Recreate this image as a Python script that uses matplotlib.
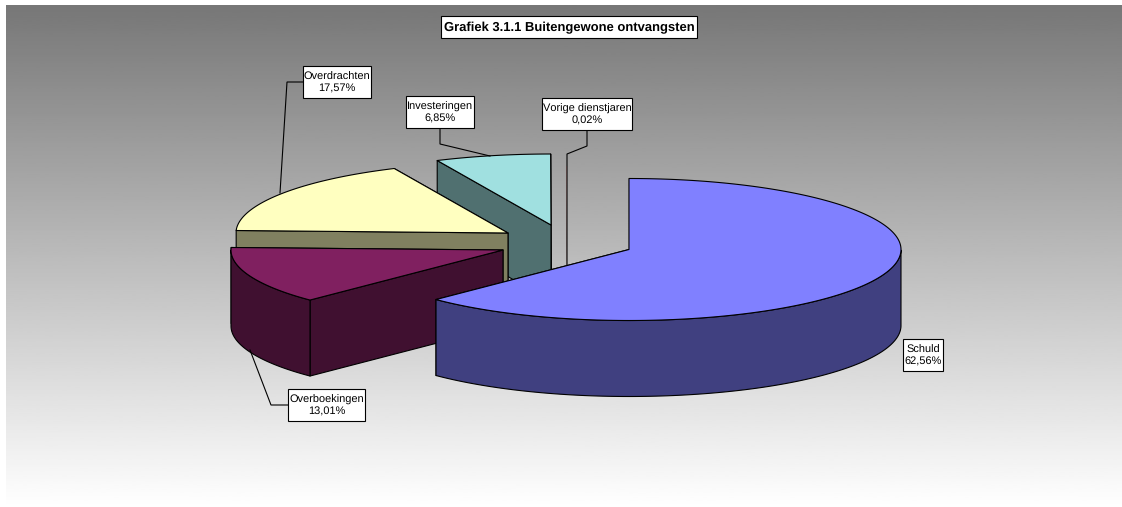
import matplotlib
matplotlib.use("Agg")
import matplotlib.pyplot as plt
import numpy as np
from matplotlib.patches import Polygon, Rectangle

plt.rcParams["font.family"] = ["Liberation Sans", "DejaVu Sans"]
plt.rcParams["text.hinting"] = "no_hinting"
plt.rcParams["text.hinting_factor"] = 1

# Data
title = "Grafiek 3.1.1 Buitengewone ontvangsten"
categories = ["Schuld", "Overboekingen", "Overdrachten", "Investeringen", "Vorige dienstjaren"]
shares = [62.56, 13.01, 17.57, 6.85, 0.02]

# Styles and layout, in pixels of the picture
top_colors = ["#8080FF", "#802060", "#FFFFC0", "#A0E0E0", "#FF8080"]
side_colors = ["#404080", "#401030", "#808060", "#507070", "#804040"]
apexes = [(629, 249.5), (503, 250), (508, 233), (551, 225), (567, 237)]
label_boxes = [(903, 339, 40, 32), (288, 389, 77, 32), (303, 66, 68, 32), (406, 96, 68, 32), (542, 98, 90, 32)]
leaders = [
    None,
    [(288, 405), (271, 405), (250, 350)],
    [(303, 82), (287, 82), (280, 193)],
    [(440, 128), (440, 144), (490, 156)],
    [(587, 130), (587, 146), (567, 154), (567, 265)],
]
RX, RY, DEPTH = 272, 71, 76
LW = 0.8

fig = plt.figure(figsize=(11.22, 5.07), dpi=100, facecolor="white")
ax = fig.add_axes([0, 0, 1, 1])

# Background gradient, dark at the top
gradient = np.linspace(0.467, 1.0, 256).reshape(-1, 1)
ax.imshow(gradient, cmap="gray", vmin=0, vmax=1, extent=(6, 1122, 507, 5), aspect="auto", zorder=0)
ax.set_xlim(0, 1122)
ax.set_ylim(507, 0)
ax.axis("off")


def rim(cx, cy, angles):
    rad = np.radians(angles)
    return np.column_stack([cx + RX * np.cos(rad), cy - RY * np.sin(rad)])


def add_poly(points, color, z, edge):
    ax.add_patch(Polygon(points, closed=True, facecolor=color, edgecolor=edge, linewidth=LW, joinstyle="round", zorder=z))


# Slices run clockwise from the top, backmost slices are drawn first
total = sum(shares)
ends = 90 - 360 * np.cumsum(shares) / total
starts = np.concatenate([[90], ends[:-1]])
zorders = [50, 40, 30, 20, 10]

for i in range(len(shares)):
    cx, cy = apexes[i]
    z = zorders[i]
    down = np.array([0, DEPTH])
    apex = np.array([cx, cy])
    # the thinnest slice is only a hair, its leader line already covers it
    edge = "none" if shares[i] < 0.1 else "#000000"

    # radial walls, the back one first
    p_end = rim(cx, cy, [ends[i]])[0]
    p_start = rim(cx, cy, [starts[i]])[0]
    add_poly([apex, p_end, p_end + down, apex + down], side_colors[i], z, edge)
    add_poly([apex, p_start, p_start + down, apex + down], side_colors[i], z + 1, edge)

    # outer wall, only the part facing the viewer
    angles = np.linspace(starts[i], ends[i], 200)
    front = angles[np.sin(np.radians(angles)) <= 0]
    if len(front) > 1:
        upper = rim(cx, cy, front)
        add_poly(np.vstack([upper, (upper + down)[::-1]]), side_colors[i], z + 2, edge)

    # top face
    add_poly(np.vstack([apex, rim(cx, cy, angles)]), top_colors[i], z + 3, edge)

# Leader lines, the one of the thin slice runs behind the front slices
for i, line in enumerate(leaders):
    if line is None:
        continue
    xs, ys = zip(*line)
    ax.plot(xs, ys, color="#000000", linewidth=LW, zorder=15 if i == 4 else 60, solid_joinstyle="miter")

# Data labels
for i, name in enumerate(categories):
    x, y, w, h = label_boxes[i]
    ax.add_patch(Rectangle((x, y), w, h, facecolor="white", edgecolor="#000000", linewidth=LW, zorder=70))
    pct = f"{shares[i]:.2f}%".replace(".", ",")
    ax.text(x + w / 2, y + h / 2 + 1, f"{name}\n{pct}", ha="center", va="center", fontsize=7.6,
            color="#000000", linespacing=1.28, zorder=71)

# Title box
ax.add_patch(Rectangle((441, 16), 256, 22, facecolor="white", edgecolor="#000000", linewidth=LW, zorder=70))
ax.text(569, 28, title, ha="center", va="center", fontsize=9.4, fontweight="bold", color="#000000", zorder=71)

fig.savefig("out.png", dpi=100, facecolor="white")
